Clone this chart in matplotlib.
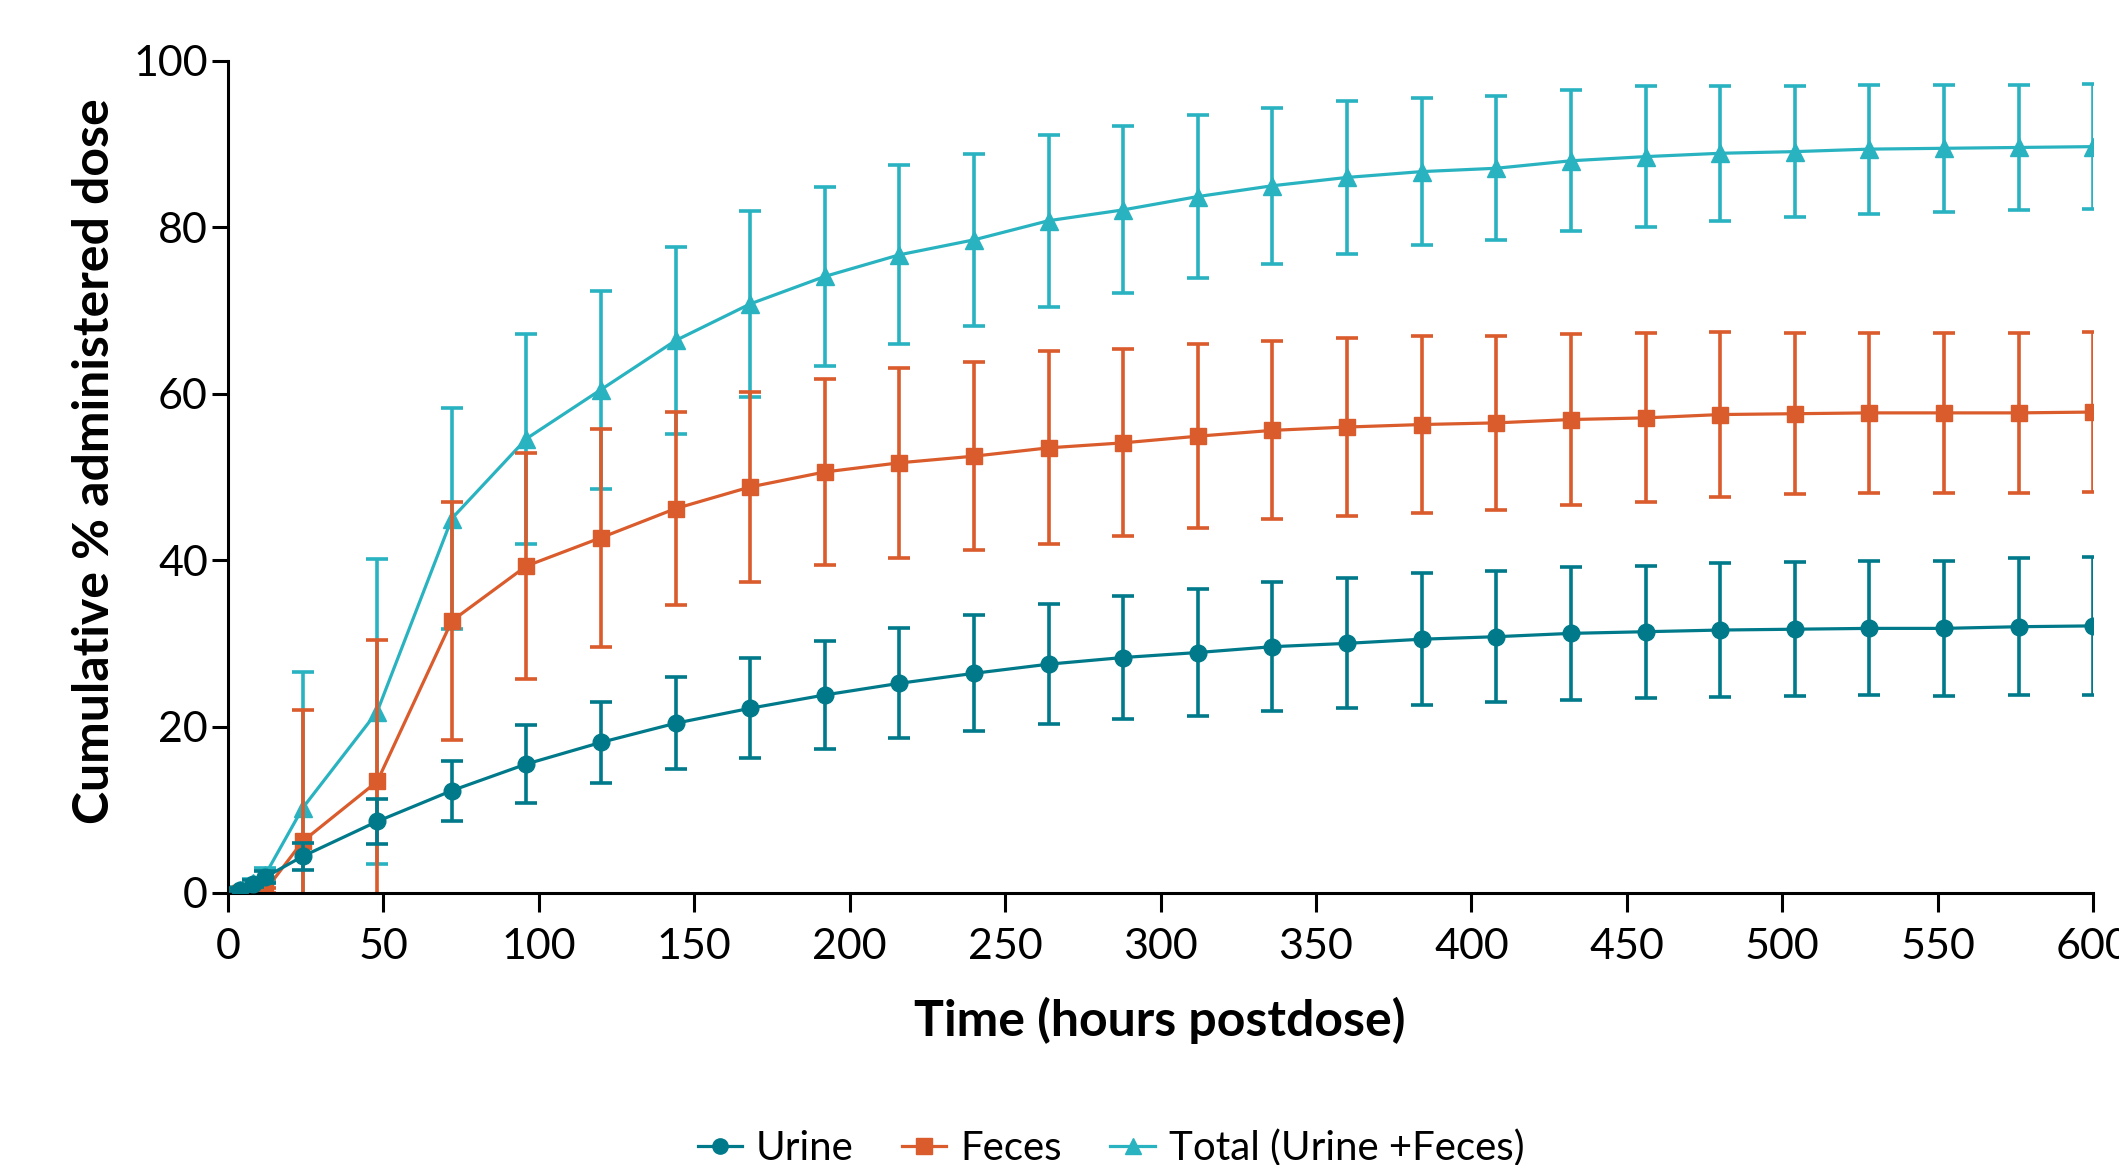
import matplotlib
matplotlib.use("Agg")
import matplotlib.pyplot as plt
from matplotlib.lines import Line2D

# ---- data ----
time_h = [4, 8, 12, 24, 48, 72, 96, 120, 144, 168, 192, 216, 240, 264, 288,
          312, 336, 360, 384, 408, 432, 456, 480, 504, 528, 552, 576, 600]

urine_mean = [0.4, 1.1, 1.9, 4.4, 8.6, 12.3, 15.5, 18.1, 20.4, 22.2, 23.8, 25.2, 26.4, 27.5,
              28.3, 28.9, 29.6, 30.0, 30.5, 30.8, 31.2, 31.4, 31.6, 31.7, 31.8, 31.8, 32.0, 32.1]
urine_sd = [0.2, 0.4, 0.7, 1.6, 2.7, 3.6, 4.65, 4.9, 5.5, 6.0, 6.45, 6.6, 6.95, 7.2,
            7.45, 7.6, 7.75, 7.8, 7.9, 7.85, 7.95, 7.95, 8.05, 8.05, 8.05, 8.15, 8.2, 8.25]

feces_mean = [0.0, 0.1, 0.3, 6.2, 13.4, 32.7, 39.3, 42.7, 46.2, 48.8, 50.6, 51.7, 52.5, 53.5,
              54.1, 54.9, 55.6, 56.0, 56.3, 56.5, 56.9, 57.1, 57.5, 57.6, 57.7, 57.7, 57.7, 57.8]
feces_sd = [0.05, 0.1, 0.3, 15.8, 17.0, 14.3, 13.6, 13.1, 11.6, 11.45, 11.2, 11.45, 11.3, 11.6,
            11.25, 11.05, 10.7, 10.75, 10.6, 10.5, 10.25, 10.15, 9.9, 9.7, 9.65, 9.6, 9.6, 9.6]

total_mean = [0.4, 1.2, 2.2, 10.2, 21.8, 45.0, 54.6, 60.5, 66.4, 70.8, 74.1, 76.7, 78.5, 80.8,
              82.1, 83.7, 85.0, 86.0, 86.7, 87.1, 88.0, 88.5, 88.9, 89.1, 89.4, 89.5, 89.6, 89.7]
total_sd = [0.3, 0.5, 0.8, 16.4, 18.3, 13.3, 12.6, 11.9, 11.25, 11.2, 10.75, 10.75, 10.3, 10.35,
            10.05, 9.8, 9.4, 9.15, 8.8, 8.65, 8.5, 8.5, 8.1, 7.9, 7.75, 7.6, 7.5, 7.5]

series_labels = ["Urine", "Feces", "Total (Urine +Feces)"]
x_ticks = [0, 50, 100, 150, 200, 250, 300, 350, 400, 450, 500, 550, 600]
y_ticks = [0, 20, 40, 60, 80, 100]

# ---- style ----
plt.rcParams['font.family'] = ['Lato', 'DejaVu Sans']
c_urine = "#007A8A"
c_feces = "#DA5B2B"
c_total = "#29B3C1"

fig = plt.figure(figsize=(21.19, 11.65), dpi=100)
ax = fig.add_axes([0.1076, 0.2335, 0.8802, 0.7142])

specs = [
    (total_mean, total_sd, c_total, "^", 13, 1),
    (feces_mean, feces_sd, c_feces, "s", 12, 2),
    (urine_mean, urine_sd, c_urine, "o", 12, 3),
]
for mean, sd, col, mk, ms, z in specs:
    ax.errorbar(time_h, mean, yerr=sd, color=col, marker=mk, markersize=ms,
                linewidth=2.3, elinewidth=2.6, capsize=8, capthick=2.6, zorder=z)

ax.set_xlim(0, 600)
ax.set_ylim(0, 100)
ax.set_xticks(x_ticks)
ax.set_yticks(y_ticks)
ax.tick_params(axis='x', length=14, width=2.2, pad=11, labelsize=31)
ax.tick_params(axis='y', length=11.5, width=2.2, pad=3, labelsize=31)
for s in ("top", "right"):
    ax.spines[s].set_visible(False)
for s in ("left", "bottom"):
    ax.spines[s].set_linewidth(2.2)

fig.text(1160 / 2119, 1 - 1020 / 1165, "Time (hours postdose)", ha='center', va='center',
         fontsize=36, fontweight='bold')
fig.text(95 / 2119, 1 - 461 / 1165, "Cumulative % administered dose", ha='center', va='center',
         rotation=90, fontsize=36, fontweight='bold')

handles = [
    Line2D([], [], color=c_urine, marker="o", markersize=11, linewidth=2.3),
    Line2D([], [], color=c_feces, marker="s", markersize=11, linewidth=2.3),
    Line2D([], [], color=c_total, marker="^", markersize=12, linewidth=2.3),
]
fig.legend(handles, series_labels, loc='center', bbox_to_anchor=(1111 / 2119, 17 / 1165),
           ncol=3, frameon=False, fontsize=29, handlelength=1.1, handletextpad=0.35,
           columnspacing=1.2)

fig.savefig("out.png", dpi=100)
